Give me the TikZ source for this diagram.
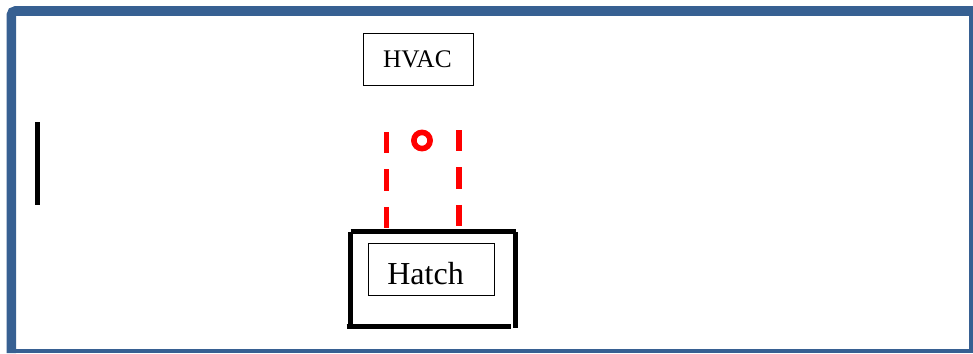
\documentclass[tikz,border=0pt]{standalone}
\usepackage{fontspec}
\setmainfont{Liberation Serif}
\definecolor{framebl}{HTML}{376092}
\tikzset{
  lbl/.style={draw=black,line width=0.85pt,fill=white,inner sep=0pt,outer sep=0pt,anchor=north west},
  wall/.style={draw=black,line width=3.7pt},
  duct/.style={draw=red,line width=4pt,dash pattern=on 16.1pt off 12pt},
}
\begin{document}
\begin{tikzpicture}[x=0.75pt,y=-0.75pt]
\useasboundingbox (0,0) rectangle (973,353);
\fill[white] (0,0) rectangle (973,353);
\draw[framebl,line width=7.2pt,rounded corners=3pt] (11.4,353) -- (11.4,11) -- (973,11);
\draw[framebl,line width=3.4pt] (971.5,11) -- (971.5,351) -- (11,351);
\node[lbl,minimum width=82.5pt,minimum height=39.5pt,font=\fontsize{19pt}{21pt}\selectfont] (hvac) at (363.4,33.2) {\hspace*{-1.5pt}HVAC};
\node[lbl,minimum width=95pt,minimum height=39.3pt,font=\fontsize{24pt}{26pt}\selectfont,text height=23.2pt,text depth=0pt] (hatch) at (368.2,243.2) {\hspace*{-9pt}Hatch};
\coordinate (tl) at (350.7,231.6);
\coordinate (tr) at (516,231.6);
\coordinate (lt) at (350.5,232);
\coordinate (ll) at (350.5,329);
\coordinate (rt) at (515.1,232);
\coordinate (rb) at (515.1,327.5);
\coordinate (bl) at (346.5,326.4);
\coordinate (br) at (511,326.4);
\draw[wall] (tl) -- (tr);
\draw[wall,line width=4.1pt] (lt) -- (ll);
\draw[wall] (rt) -- (rb);
\draw[wall] (bl) -- (br);
\coordinate (d1a) at (386.5,132);
\coordinate (d1b) at (386.5,228);
\coordinate (d2a) at (459,130);
\coordinate (d2b) at (459,226);
\draw[duct] (d1a) -- (d1b);
\draw[duct] (d2a) -- (d2b);
\node[circle,draw=red,line width=4.2pt,minimum size=12.2pt,inner sep=0pt,outer sep=0pt] (sensor) at (422,140.5) {};
\coordinate (da) at (37.5,122);
\coordinate (db) at (37.5,204.5);
\draw[draw=black,line width=3.75pt] (da) -- (db);
\end{tikzpicture}
\end{document}
